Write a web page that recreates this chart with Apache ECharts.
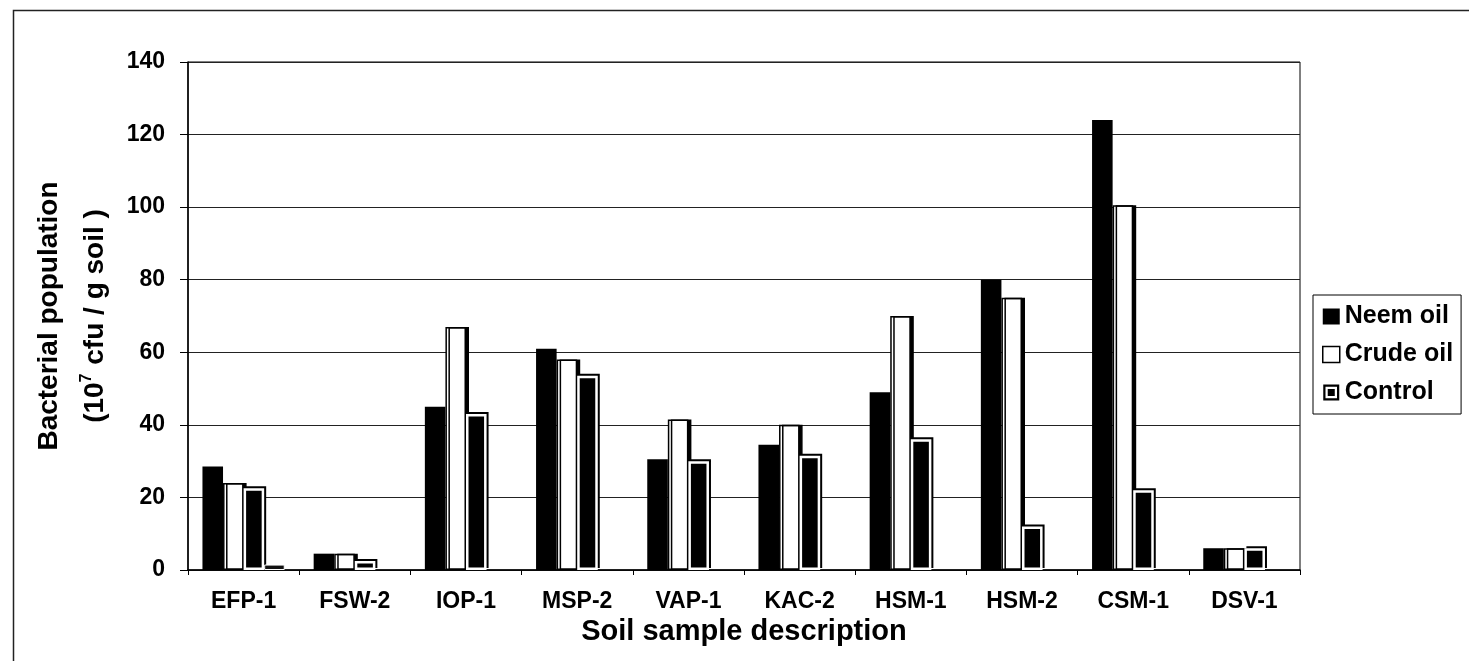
<!DOCTYPE html>
<html>
<head>
<meta charset="utf-8">
<script src="https://cdn.jsdelivr.net/npm/echarts@6/dist/echarts.min.js"></script>
<style>
  html, body { margin: 0; padding: 0; background: #fff; overflow: hidden; }
  #chart { width: 1469px; height: 661px; }
</style>
</head>
<body>
<div id="chart"></div>
<script>
// 样本类别
const categories = ["EFP-1", "FSW-2", "IOP-1", "MSP-2", "VAP-1", "KAC-2", "HSM-1", "HSM-2", "CSM-1", "DSV-1"];
// 各处理的细菌数量 (10^7 cfu / g soil)
const neemOil = [28.5, 4.5, 45, 61, 30.5, 34.5, 49, 80, 124, 6];
const crudeOil = [24, 4.5, 67, 58, 41.5, 40, 70, 75, 100.5, 6];
const control = [22.5, 2.5, 43, 53.5, 30, 31.5, 36, 12, 22, 6];
// fourth bar slot, only EFP-1 has a value (no legend entry)
const extra = [1.5, "-", "-", "-", "-", "-", "-", "-", "-", "-"];
// y ticks
const yMin = 0;
const yMax = 140;
const yStep = 20;

const font = "'Liberation Sans', Arial, sans-serif";
// legend icon for Control: black frame, white ring, black centre
const controlIcon = "path://M0,0H10V10H0Z M1.4,1.4V8.6H8.6V1.4Z M2.8,2.8H7.2V7.2H2.8Z";

const option = {
  animation: false,
  backgroundColor: "#fff",
  textStyle: { fontFamily: font, color: "#000" },
  graphic: [
    {
      // outer frame of the figure
      type: "rect",
      left: 11,
      top: 8,
      shape: { width: 1600, height: 700 },
      style: { fill: null, stroke: "#222", lineWidth: 1.5 },
      silent: true,
    },
  ],
  legend: {
    data: [
      { name: "Neem oil", icon: "rect", itemStyle: { color: "#000", borderWidth: 0, shadowBlur: 0, shadowOffsetX: 0, shadowOffsetY: 0 } },
      { name: "Crude oil", icon: "rect", itemStyle: { color: "#fff", borderColor: "#000", borderWidth: 1.5, shadowOffsetX: 0, shadowOffsetY: 0 } },
      { name: "Control", icon: controlIcon, itemStyle: { color: "#000", borderWidth: 0, shadowBlur: 0, shadowOffsetX: 0, shadowOffsetY: 0 } },
    ],
    orient: "vertical",
    left: 1313,
    top: 295,
    padding: [9, 8, 9, 9],
    itemGap: 13,
    itemWidth: 17,
    itemHeight: 16,
    borderColor: "#000",
    borderWidth: 1,
    textStyle: { fontSize: 25, fontWeight: "bold", fontFamily: font, color: "#000" },
  },
  grid: {
    left: 188,
    right: 169,
    top: 62,
    bottom: 91,
    show: true,
    borderColor: "#000",
    borderWidth: 1,
  },
  xAxis: {
    type: "category",
    data: categories,
    name: "Soil sample description",
    nameLocation: "middle",
    nameGap: 44,
    nameTextStyle: { fontSize: 29, fontWeight: "bold", fontFamily: font, color: "#000" },
    axisLine: { lineStyle: { color: "#000", width: 1.5 } },
    axisTick: { show: true, length: 5, lineStyle: { color: "#000" } },
    axisLabel: { fontSize: 23, fontWeight: "bold", color: "#000", margin: 20, fontFamily: font },
  },
  yAxis: {
    type: "value",
    min: yMin,
    max: yMax,
    interval: yStep,
    name: "{a|Bacterial population}\n{a|(10}{sup|7}{a| cfu / g soil )}",
    nameLocation: "middle",
    nameRotate: 90,
    nameGap: 70,
    nameTextStyle: {
      rich: {
        a: { fontSize: 28, fontWeight: "bold", fontFamily: font, color: "#000", lineHeight: 46 },
        sup: { fontSize: 16, fontWeight: "bold", fontFamily: font, color: "#000", lineHeight: 46, padding: [0, 1, 16, 0] },
      },
    },
    axisLine: { show: true, lineStyle: { color: "#000", width: 1.5 } },
    axisTick: { show: true, length: 8, lineStyle: { color: "#000" } },
    axisLabel: { fontSize: 23, fontWeight: "bold", color: "#000", margin: 23, fontFamily: font },
    splitLine: { lineStyle: { color: "#222", width: 1.2 } },
  },
  series: [
    {
      name: "Neem oil",
      type: "bar",
      data: neemOil,
      barGap: "0%",
      barCategoryGap: "26%",
      itemStyle: { color: "#000" },
    },
    {
      name: "Crude oil",
      type: "bar",
      data: crudeOil,
      itemStyle: {
        color: "#fff",
        borderColor: "#000",
        borderWidth: 1.5,
        shadowColor: "#000",
        shadowBlur: 0,
        shadowOffsetX: 3,
        shadowOffsetY: 0,
      },
    },
    {
      name: "Control",
      type: "bar",
      data: control,
      itemStyle: {
        color: "#000",
        borderColor: "#fff",
        borderWidth: 2.5,
        shadowColor: "#000",
        shadowBlur: 0,
        shadowOffsetX: 2,
        shadowOffsetY: -2,
      },
    },
    {
      name: "extra",
      type: "bar",
      data: extra,
      itemStyle: { color: "#111", borderColor: "#fff", borderWidth: 1 },
    },
  ],
};

const chart = echarts.init(document.getElementById("chart"));
chart.setOption(option);
</script>
</body>
</html>
